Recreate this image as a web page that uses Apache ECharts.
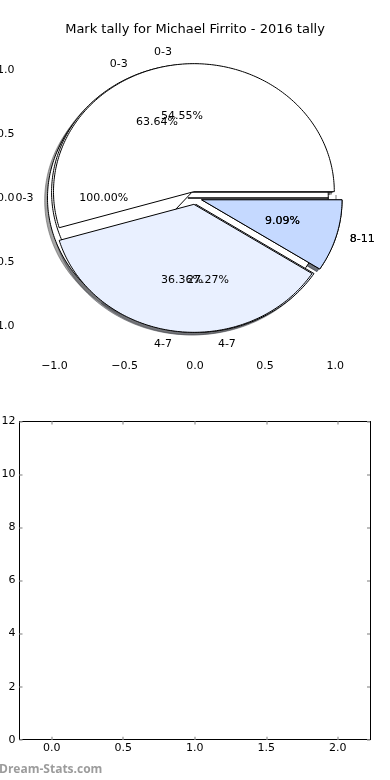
<!DOCTYPE html>
<html><head><meta charset="utf-8">
<script src="https://cdn.jsdelivr.net/npm/echarts@6/dist/echarts.min.js"></script>
<style>html,body{margin:0;padding:0;background:#fff}#c{width:390px;height:780px}</style>
</head><body><div id="c"></div>
<script>
const titleText = 'Mark tally for Michael Firrito - 2016 tally';
const watermark = 'Dream-Stats.com';
const categories = ['0-3', '4-7', '8-11'];
const pieA = [11];
const pieB = [7, 3, 1];
const pieC = [6, 4, 1];
const sliceColors = ['#ffffff', '#e9f0ff', '#c5d9ff'];
const explode = 0.05;
const pieTicks = [-1, -0.5, 0, 0.5, 1];
const barXTicks = [0, 0.5, 1, 1.5, 2];
const barYTicks = [0, 2, 4, 6, 8, 10, 12];

const pies = [pieA, pieB, pieC];
const wedges = [];
pies.forEach((vals, p) => {
  const total = vals.reduce((a, b) => a + b, 0);
  let start = 0;
  vals.forEach((v, i) => {
    const span = v / total * 360;
    wedges.push({ p, i, t1: start, t2: start + span, frac: v / total, label: categories[i], color: sliceColors[i] });
    start += span;
  });
});

const FONT = '"DejaVu Sans", sans-serif';
const rad = d => d * Math.PI / 180;
function center(w) {
  const m = rad((w.t1 + w.t2) / 2);
  return [explode * Math.cos(m), explode * Math.sin(m)];
}
function wedgePts(api, w, dx, dy) {
  const c = center(w);
  const cx = c[0] + dx, cy = c[1] + dy;
  const pts = [api.coord([cx, cy])];
  const n = Math.max(4, Math.ceil(w.t2 - w.t1));
  for (let j = 0; j <= n; j++) {
    const a = rad(w.t1 + (w.t2 - w.t1) * j / n);
    pts.push(api.coord([cx + Math.cos(a), cy + Math.sin(a)]));
  }
  return pts;
}
function shade(hex) {
  const r = parseInt(hex.slice(1, 3), 16) * 0.3, g = parseInt(hex.slice(3, 5), 16) * 0.3, b = parseInt(hex.slice(5, 7), 16) * 0.3;
  return 'rgb(' + Math.round(r) + ',' + Math.round(g) + ',' + Math.round(b) + ')';
}
const fmt1 = v => (v < 0 ? '\u2212' : '') + Math.abs(v).toFixed(1);
const tickStyle = { lineStyle: { color: '#a8a8a8', width: 1.5 }, length: 3, inside: true };
const wedgeData = wedges.map((w, k) => [k, 0]);

const chart = echarts.init(document.getElementById('c'), null, { renderer: 'canvas' });
chart.setOption({
  animation: false,
  backgroundColor: '#fff',
  graphic: [
    { type: 'text', x: 195, y: 30, style: { text: titleText, font: '13px ' + FONT, fill: '#000', align: 'center', verticalAlign: 'middle' } },
    { type: 'text', x: -1, y: 770, style: { text: watermark, font: 'bold 12px "Open Sans", sans-serif', fill: '#9c9c9c', align: 'left', verticalAlign: 'middle' } }
  ],
  grid: [
    { left: 19.4, top: 38, width: 351, height: 320, show: false, containLabel: false, outerBoundsMode: 'none' },
    { left: 19.5, top: 421.5, width: 350.5, height: 318.2, show: false, containLabel: false, outerBoundsMode: 'none' }
  ],
  xAxis: [
    { gridIndex: 0, type: 'value', min: -1.25, max: 1.25, position: 'bottom',
      axisLine: { show: false }, splitLine: { show: false },
      axisTick: Object.assign({ customValues: pieTicks }, tickStyle),
      axisLabel: { customValues: pieTicks, formatter: fmt1, fontSize: 11, fontFamily: FONT, color: '#000', margin: 3 } },
    { gridIndex: 0, type: 'value', min: -1.25, max: 1.25, position: 'top',
      axisLine: { show: false }, splitLine: { show: false },
      axisTick: Object.assign({ customValues: pieTicks }, tickStyle), axisLabel: { show: false } },
    { gridIndex: 1, type: 'value', min: -0.225, max: 2.225, position: 'bottom',
      axisLine: { show: true, onZero: false, lineStyle: { color: '#000', width: 1 } }, splitLine: { show: false },
      axisTick: Object.assign({ customValues: barXTicks }, tickStyle),
      axisLabel: { customValues: barXTicks, formatter: fmt1, fontSize: 11, fontFamily: FONT, color: '#000', margin: 3 } },
    { gridIndex: 1, type: 'value', min: -0.225, max: 2.225, position: 'top',
      axisLine: { show: true, onZero: false, lineStyle: { color: '#000', width: 1 } }, splitLine: { show: false },
      axisTick: Object.assign({ customValues: barXTicks }, tickStyle), axisLabel: { show: false } }
  ],
  yAxis: [
    { gridIndex: 0, type: 'value', min: -1.25, max: 1.25, position: 'left',
      axisLine: { show: false }, splitLine: { show: false },
      axisTick: Object.assign({ customValues: pieTicks }, tickStyle),
      axisLabel: { customValues: pieTicks, formatter: fmt1, fontSize: 11, fontFamily: FONT, color: '#000', margin: 5 } },
    { gridIndex: 0, type: 'value', min: -1.25, max: 1.25, position: 'right',
      axisLine: { show: false }, splitLine: { show: false },
      axisTick: Object.assign({ customValues: pieTicks }, tickStyle), axisLabel: { show: false } },
    { gridIndex: 1, type: 'value', min: 0, max: 12, interval: 2, position: 'left',
      axisLine: { show: true, onZero: false, lineStyle: { color: '#000', width: 1 } }, splitLine: { show: false },
      axisTick: Object.assign({ customValues: barYTicks }, tickStyle),
      axisLabel: { customValues: barYTicks, fontSize: 11, fontFamily: FONT, color: '#000', margin: 4 } },
    { gridIndex: 1, type: 'value', min: 0, max: 12, interval: 2, position: 'right',
      axisLine: { show: true, onZero: false, lineStyle: { color: '#000', width: 1 } }, splitLine: { show: false },
      axisTick: Object.assign({ customValues: barYTicks }, tickStyle), axisLabel: { show: false } }
  ],
  series: [
    { type: 'custom', name: 'shadows', xAxisIndex: 0, yAxisIndex: 0, silent: true, data: wedgeData,
      renderItem: (params, api) => {
        const w = wedges[params.dataIndex];
        const c = shade(w.color);
        return { type: 'polygon', shape: { points: wedgePts(api, w, -0.02, -0.02) },
          style: { fill: c, stroke: c, lineWidth: 1, opacity: 0.5 } };
      } },
    { type: 'custom', name: 'wedges', xAxisIndex: 0, yAxisIndex: 0, silent: true, data: wedgeData,
      renderItem: (params, api) => {
        const w = wedges[params.dataIndex];
        return { type: 'polygon', shape: { points: wedgePts(api, w, 0, 0) },
          style: { fill: w.color, stroke: '#000', lineWidth: 1, lineJoin: 'miter' } };
      } },
    { type: 'custom', name: 'labels', xAxisIndex: 0, yAxisIndex: 0, silent: true, data: wedgeData,
      renderItem: (params, api) => {
        const w = wedges[params.dataIndex];
        const c = center(w);
        const m = rad((w.t1 + w.t2) / 2);
        const lx = c[0] + 1.1 * Math.cos(m), ly = c[1] + 1.1 * Math.sin(m);
        const px = c[0] + 0.6 * Math.cos(m), py = c[1] + 0.6 * Math.sin(m);
        const lp = api.coord([lx, ly]), pp = api.coord([px, py]);
        return { type: 'group', children: [
          { type: 'text', x: lp[0], y: lp[1], style: { text: w.label, font: '11px ' + FONT, fill: '#000', align: lx > 0 ? 'left' : 'right', verticalAlign: 'middle' } },
          { type: 'text', x: pp[0], y: pp[1], style: { text: (w.frac * 100).toFixed(2) + '%', font: '11px ' + FONT, fill: '#000', align: 'center', verticalAlign: 'middle' } }
        ] };
      } }
  ]
});
</script>
</body></html>
